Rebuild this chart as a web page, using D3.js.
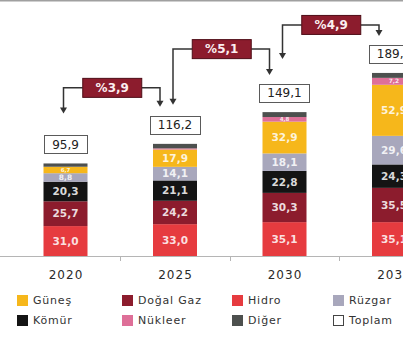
<!DOCTYPE html>
<html>
<head>
<meta charset="utf-8">
<script src="https://cdn.jsdelivr.net/npm/d3@7"></script>
<style>
  html, body { margin: 0; padding: 0; background: #fff; overflow: hidden; }
  svg { display: block; font-family: "DejaVu Sans", sans-serif; }
</style>
</head>
<body>
<svg id="chart" width="403" height="337"></svg>
<script>
// Kurulu güç (GW) – yıllara göre kaynak dağılımı
const years    = ["2020", "2025", "2030", "2035"];
const hidro    = [31.0, 33.0, 35.1, 35.1];
const dogalGaz = [25.7, 24.2, 30.3, 35.5];
const komur    = [20.3, 21.1, 22.8, 24.3];
const ruzgar   = [8.8, 14.1, 18.1, 29.6];
const gunes    = [6.7, 17.9, 32.9, 52.9];
const nukleer  = [0, 1.2, 4.8, 7.2];
const diger    = [3.4, 4.7, 5.1, 5.1];
const toplam   = [95.9, 116.2, 149.1, 189.7];
const buyume   = [3.9, 5.1, 4.9];   // yıllık ortalama artış (%)

// series meta (stack order bottom → top)
const seriesKeys   = ["hidro", "dogalGaz", "komur", "ruzgar", "gunes", "nukleer", "diger"];
const seriesValues = { hidro, dogalGaz, komur, ruzgar, gunes, nukleer, diger };
const seriesColor  = {
  hidro: "#e63b3f", dogalGaz: "#8c1c2d", komur: "#141414", ruzgar: "#a8a7bc",
  gunes: "#f6b71b", nukleer: "#de6f98", diger: "#4d504e"
};
const labelledSeries = new Set(["hidro", "dogalGaz", "komur", "ruzgar", "gunes", "nukleer"]);

// legend layout (two rows of four)
const legendItems = [
  { name: "Güneş", key: "gunes" }, { name: "Doğal Gaz", key: "dogalGaz" },
  { name: "Hidro", key: "hidro" }, { name: "Rüzgar", key: "ruzgar" },
  { name: "Kömür", key: "komur" }, { name: "Nükleer", key: "nukleer" },
  { name: "Diğer", key: "diger" }, { name: "Toplam", key: null }
];
const legendCols = [17, 122, 232, 333];
const legendRows = [300, 320];

// callout geometry tweaks per growth arrow
const calloutRise = [19, 26, 11];
const startGap    = [22, 11, 25];

const fmt = v => d3.format(".1f")(v).replace(".", ",");

const svg = d3.select("#chart");
const W = 403;

const x = d3.scalePoint().domain(years).range([65.5, 394]);
const y = d3.scaleLinear().domain([0, 200]).range([256, 63]);
const barW = 44;
const step = x.step();

// thin rule along the top edge
svg.append("line")
  .attr("x1", 0).attr("x2", W).attr("y1", 0.75).attr("y2", 0.75)
  .attr("stroke", "#a0a0a0").attr("stroke-width", 1.5);

// stacked data
const rows = years.map((yr, i) => {
  const r = { year: yr };
  seriesKeys.forEach(k => r[k] = seriesValues[k][i]);
  return r;
});
const stacked = d3.stack().keys(seriesKeys)(rows);

const layer = svg.append("g").selectAll("g")
  .data(stacked).join("g")
  .attr("fill", d => seriesColor[d.key]);

layer.selectAll("rect")
  .data(d => d.map(p => ({ key: d.key, p })))
  .join("rect")
  .attr("x", d => x(d.p.data.year) - barW / 2)
  .attr("width", barW)
  .attr("y", d => y(d.p[1]))
  .attr("height", d => Math.max(0, y(d.p[0]) - y(d.p[1])));

// segment value labels (font shrinks with thin segments)
const segLabels = [];
stacked.forEach(s => {
  if (!labelledSeries.has(s.key)) return;
  s.forEach(p => {
    const v = p[1] - p[0];
    if (v < 4.5) return;
    const h = y(p[0]) - y(p[1]);
    segLabels.push({ year: p.data.year, v, cy: (y(p[0]) + y(p[1])) / 2, fs: Math.max(5.5, Math.min(10.5, h - 1)) });
  });
});
svg.append("g").selectAll("text")
  .data(segLabels).join("text")
  .attr("x", d => x(d.year))
  .attr("y", d => d.cy)
  .attr("dy", "0.36em")
  .attr("text-anchor", "middle")
  .attr("font-size", d => d.fs)
  .attr("font-weight", "bold")
  .attr("fill", "#fff")
  .attr("fill-opacity", 0.85)
  .text(d => fmt(d.v));

// baseline with ticks between categories
const axisG = svg.append("g");
axisG.append("line")
  .attr("x1", 0).attr("x2", W).attr("y1", 256.5).attr("y2", 256.5)
  .attr("stroke", "#b5b5b5").attr("stroke-width", 1);
years.slice(1).forEach(yr => {
  const tx = Math.round(x(yr) - step / 2) + 0.5;
  axisG.append("line").attr("x1", tx).attr("x2", tx).attr("y1", 256).attr("y2", 261)
    .attr("stroke", "#b5b5b5");
});

// year labels via bottom axis
const yearAxis = svg.append("g")
  .attr("transform", "translate(0,270)")
  .call(d3.axisBottom(x).tickSize(0).tickPadding(0));
yearAxis.select(".domain").remove();
yearAxis.selectAll("text")
  .attr("font-family", "DejaVu Sans, sans-serif")
  .attr("font-size", 12)
  .attr("letter-spacing", 1)
  .attr("fill", "#2a2a2a");

// total boxes
const boxH = 18, boxGap = 10;
const boxTop = i => y(toplam[i]) - boxGap - boxH;
const totalG = svg.append("g").selectAll("g")
  .data(years).join("g");
totalG.each(function (yr, i) {
  const g = d3.select(this);
  const t = g.append("text")
    .attr("x", x(yr)).attr("y", boxTop(i) + boxH / 2).attr("dy", "0.36em")
    .attr("text-anchor", "middle").attr("font-size", 12).attr("fill", "#222")
    .text(fmt(toplam[i]));
  const tw = t.node().getComputedTextLength();
  g.insert("rect", "text")
    .attr("x", Math.round(x(yr) - tw / 2 - 8) + 0.5)
    .attr("y", Math.round(boxTop(i)) + 0.5)
    .attr("width", Math.round(tw + 16)).attr("height", boxH)
    .attr("fill", "#fff").attr("stroke", "#5a5a5a").attr("stroke-width", 1);
});

// growth callouts with down arrows
const calloutG = svg.append("g");
const arrow = (tx, ty) => `M${tx - 3.5},${ty - 6}L${tx + 3.5},${ty - 6}L${tx},${ty}Z`;
buyume.forEach((g, i) => {
  const x0 = x(years[i]), x1 = x(years[i + 1]);
  const startX = x0 - 2, endX = x1 - 15;
  const endTip = boxTop(i + 1) - 9;
  const startTip = boxTop(i) - startGap[i];
  const cy = endTip - calloutRise[i];
  const cx = (x0 + x1) / 2 - 8;

  const lbl = calloutG.append("text")
    .attr("x", cx).attr("y", cy).attr("dy", "0.36em")
    .attr("text-anchor", "middle").attr("font-size", 12).attr("font-weight", "bold")
    .attr("fill", "#fbeef0").text("%" + fmt(g));
  const tw = lbl.node().getComputedTextLength();
  const bw = Math.round(tw + 26), bh = 19;
  const bx = cx - bw / 2;

  calloutG.insert("path", "text")
    .attr("d", `M${bx},${cy}H${startX}V${startTip - 5}`)
    .attr("fill", "none").attr("stroke", "#333").attr("stroke-width", 1.5);
  calloutG.insert("path", "text")
    .attr("d", `M${bx + bw},${cy}H${endX}V${endTip - 5}`)
    .attr("fill", "none").attr("stroke", "#333").attr("stroke-width", 1.5);
  calloutG.insert("path", "text").attr("d", arrow(startX, startTip)).attr("fill", "#333");
  calloutG.insert("path", "text").attr("d", arrow(endX, endTip)).attr("fill", "#333");
  calloutG.insert("rect", "text")
    .attr("x", bx).attr("y", cy - bh / 2).attr("width", bw).attr("height", bh)
    .attr("fill", "#8c1c2d").attr("stroke", "#4e0c16").attr("stroke-width", 1);
  lbl.raise();
});

// legend
const leg = svg.append("g").selectAll("g")
  .data(legendItems).join("g")
  .attr("transform", (d, i) => `translate(${legendCols[i % 4]},${legendRows[Math.floor(i / 4)]})`);
leg.append("rect")
  .attr("x", d => d.key ? 0 : 0.5).attr("y", d => d.key ? -5 : -4.5)
  .attr("width", d => d.key ? 11 : 10).attr("height", d => d.key ? 11 : 10)
  .attr("fill", d => d.key ? seriesColor[d.key] : "#fff")
  .attr("stroke", d => d.key ? "none" : "#444");
leg.append("text")
  .attr("x", 16).attr("y", 0.5).attr("dy", "0.36em")
  .attr("font-size", 11).attr("letter-spacing", 0.8).attr("fill", "#333")
  .text(d => d.name);
</script>
</body>
</html>
